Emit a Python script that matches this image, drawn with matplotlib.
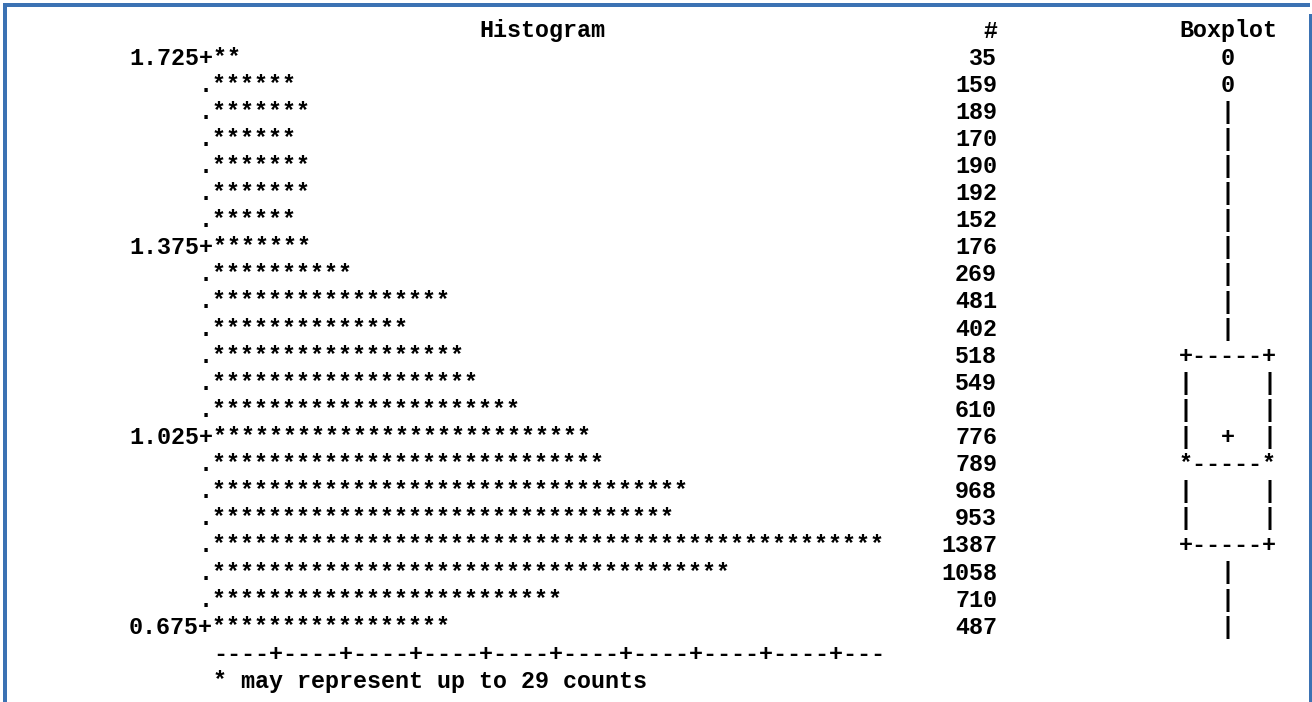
import matplotlib.pyplot as plt
from matplotlib.patches import Rectangle

# PROC UNIVARIATE style line-printer histogram
bin_labels = ["1.725", "", "", "", "", "", "", "1.375", "", "", "", "", "", "",
              "1.025", "", "", "", "", "", "", "0.675"]
counts = [35, 159, 189, 170, 190, 192, 152, 176, 269, 481, 402, 518, 549, 610,
          776, 789, 968, 953, 1387, 1058, 710, 487]
per_star = 29
boxplot = ["   0   ", "   0   ",
           "   |   ", "   |   ", "   |   ", "   |   ", "   |   ", "   |   ",
           "   |   ", "   |   ", "   |   ",
           "+-----+", "|     |", "|     |", "|  +  |", "*-----*",
           "|     |", "|     |", "+-----+",
           "   |   ", "   |   ", "   |   "]
axis_line = "----+" * 9 + "---"
note = "* may represent up to %d counts" % per_star

W, H = 1312, 702
cw = 14.0      # pixels per character column
x0 = 129.0     # left edge of column 0
dy = 27.1      # pixels per printed line
y0 = 30.0      # centre of the heading line
base = 7.5 / dy

fig = plt.figure(figsize=(W / 100, H / 100), dpi=100)
ax = fig.add_axes([0, 0, 1, 1])
ax.set_xlim(-x0 / cw, (W - x0) / cw)
ax.set_ylim((H - y0) / dy, -y0 / dy)
ax.axis("off")

font = dict(family=["Liberation Mono", "DejaVu Sans Mono"], weight="bold",
            size=16.8, color="black", va="baseline")


def put(col, line, s, ha="left"):
    ax.text(col, line + base, s, ha=ha, **font)


# heading line
put(25, 0, "Histogram")
put(62, 0, "#", ha="right")
put(75, 0, "Boxplot")

for i, (lab, n, bx) in enumerate(zip(bin_labels, counts, boxplot)):
    line = i + 1
    stars = "*" * (-(-n // per_star))
    if lab:
        put(0, line, lab + "+" + stars)
    else:
        put(5, line, "." + stars)
    put(62, line, str(n), ha="right")
    put(75, line, bx)

put(6, len(counts) + 1, axis_line)
put(6, len(counts) + 2, note)

# frame around the output block
blue = "#3b72b3"
for x, y, w, h in [(3.3, 3.3, 3.4, H), (3.3, 3.3, 1306.7, 3.4),
                   (1309.3, 14, 3.0, H)]:
    fig.add_artist(Rectangle((x / W, 1 - (y + h) / H), w / W, h / H,
                             transform=fig.transFigure, color=blue, lw=0))

fig.savefig("out.png", dpi=100)
